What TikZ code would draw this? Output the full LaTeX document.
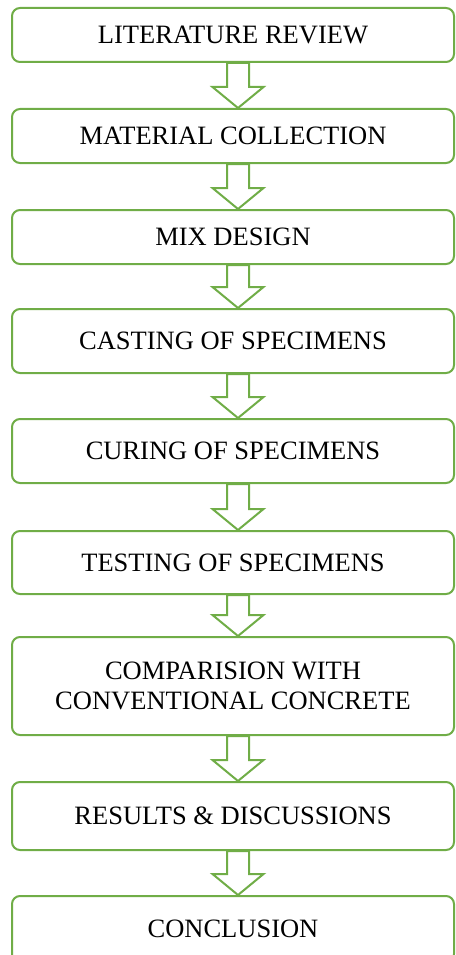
\documentclass[tikz,border=0pt]{standalone}
\usepackage{fontspec}
\setmainfont{Liberation Serif}
\usetikzlibrary{calc}
\definecolor{boxgreen}{RGB}{112,173,71}
\tikzset{
 stepbox/.style={draw=boxgreen, line width=2pt, rounded corners=8pt, fill=white, minimum width=442pt, inner sep=0pt, align=center, font=\fontsize{26.5}{30.5}\selectfont},
 flowarrow/.style={draw=boxgreen, line width=2pt, fill=white, line join=miter}
}
\newcommand{\flowdown}[2]{%
 \draw[flowarrow] ($(#1.south)+(-6,0)$) -- ($(#2.north)+(-6,21)$) -- ($(#2.north)+(-20.5,21)$) -- ($(#2.north)+(5,0)$) -- ($(#2.north)+(30.5,21)$) -- ($(#2.north)+(16,21)$) -- ($(#1.south)+(16,0)$) -- cycle;}
\begin{document}
\begin{tikzpicture}[x=1pt,y=1pt]
\useasboundingbox (0,0) rectangle (455,-955);
\clip (0,0) rectangle (455,-955);
\node[stepbox, minimum height=54pt] (b1) at (233,-35) {LITERATURE REVIEW};
\node[stepbox, minimum height=54pt] (b2) at (233,-136) {MATERIAL COLLECTION};
\node[stepbox, minimum height=54pt] (b3) at (233,-237) {MIX DESIGN};
\node[stepbox, minimum height=64pt] (b4) at (233,-341) {CASTING OF SPECIMENS};
\node[stepbox, minimum height=64pt] (b5) at (233,-451) {CURING OF SPECIMENS};
\node[stepbox, minimum height=63pt] (b6) at (233,-562.5) {TESTING OF SPECIMENS};
\node[stepbox, minimum height=98pt] (b7) at (233,-686) {COMPARISION WITH\\CONVENTIONAL CONCRETE};
\node[stepbox, minimum height=68pt] (b8) at (233,-816) {RESULTS \& DISCUSSIONS};
\node[stepbox, minimum height=66pt] (b9) at (233,-929) {CONCLUSION};
\flowdown{b1}{b2}
\flowdown{b2}{b3}
\flowdown{b3}{b4}
\flowdown{b4}{b5}
\flowdown{b5}{b6}
\flowdown{b6}{b7}
\flowdown{b7}{b8}
\flowdown{b8}{b9}
\end{tikzpicture}
\end{document}
